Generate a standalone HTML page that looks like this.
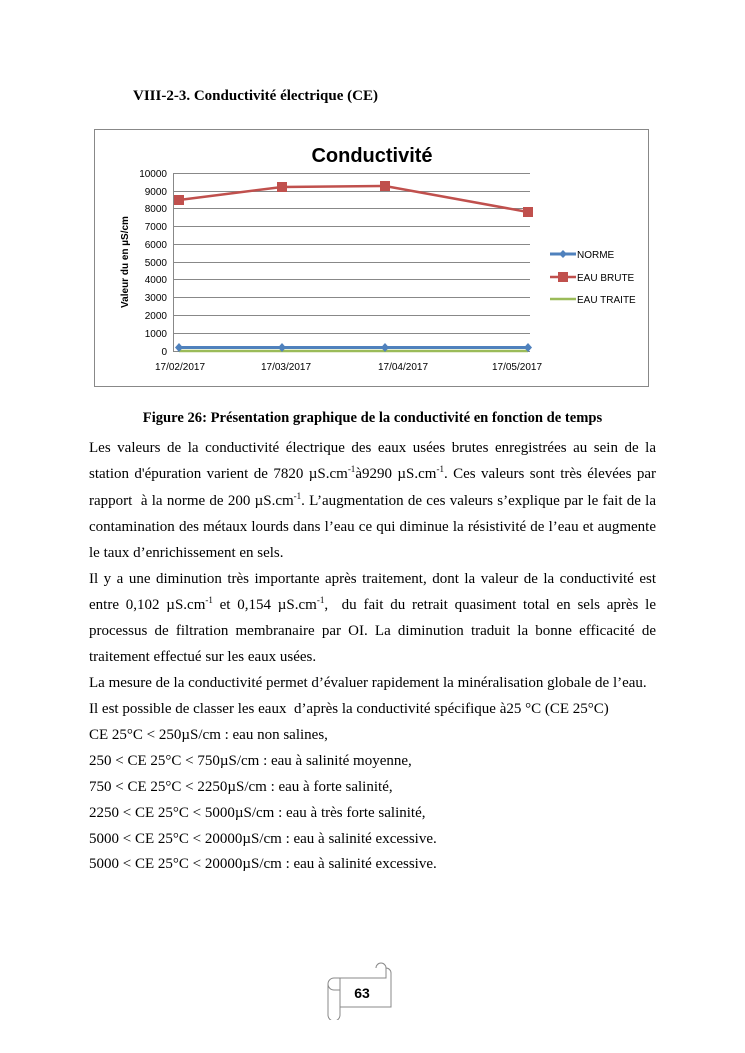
<!DOCTYPE html>
<html><head><meta charset="utf-8"><style>
body{margin:0;width:745px;height:1053px;background:#fff;position:relative;font-family:"Liberation Serif",serif;color:#000;overflow:hidden}
.l{position:absolute;left:89px;width:567px;font-size:15px;line-height:17px;white-space:nowrap}
.j{text-align:justify;text-align-last:justify;white-space:normal}
sup{font-size:9px;line-height:0;vertical-align:6px}
</style></head><body>
<div class="l" style="left:133px;top:88px;font-weight:bold;font-size:15px">VIII-2-3. Conductivité électrique (CE)</div>
<svg style="position:absolute;left:0;top:0" width="745" height="400" font-family="Liberation Sans, sans-serif">
<rect x="94.5" y="129.5" width="554" height="257" fill="#fff" stroke="#888"/>
<text x="372" y="162" font-size="20" font-weight="bold" text-anchor="middle">Conductivité</text>
<g stroke="#888" stroke-width="1">
<line x1="173" y1="173.5" x2="530" y2="173.5"/><line x1="173" y1="191.5" x2="530" y2="191.5"/>
<line x1="173" y1="208.5" x2="530" y2="208.5"/><line x1="173" y1="226.5" x2="530" y2="226.5"/>
<line x1="173" y1="244.5" x2="530" y2="244.5"/><line x1="173" y1="262.5" x2="530" y2="262.5"/>
<line x1="173" y1="279.5" x2="530" y2="279.5"/><line x1="173" y1="297.5" x2="530" y2="297.5"/>
<line x1="173" y1="315.5" x2="530" y2="315.5"/><line x1="173" y1="333.5" x2="530" y2="333.5"/>
<line x1="173" y1="351.5" x2="530" y2="351.5"/><line x1="173.5" y1="173" x2="173.5" y2="351"/>
</g>
<g font-size="10" text-anchor="end">
<text x="167" y="177">10000</text><text x="167" y="195">9000</text><text x="167" y="212">8000</text>
<text x="167" y="230">7000</text><text x="167" y="248">6000</text><text x="167" y="266">5000</text>
<text x="167" y="283">4000</text><text x="167" y="301">3000</text><text x="167" y="319">2000</text>
<text x="167" y="337">1000</text><text x="167" y="355">0</text></g>
<g font-size="10" text-anchor="middle">
<text x="180" y="370">17/02/2017</text><text x="286" y="370">17/03/2017</text>
<text x="403" y="370">17/04/2017</text><text x="517" y="370">17/05/2017</text></g>
<text transform="translate(128,262) rotate(-90)" font-size="10" font-weight="bold" text-anchor="middle">Valeur du en µS/cm</text>
<polyline points="179,351 282,351 385,351 528,351" fill="none" stroke="#9bbb59" stroke-width="2.5"/>
<polyline points="179,347.5 282,347.5 385,347.5 528,347.5" fill="none" stroke="#4f81bd" stroke-width="3"/>
<g fill="#4f81bd"><path d="M179,343 l4,4.5 -4,4.5 -4,-4.5z"/><path d="M282,343 l4,4.5 -4,4.5 -4,-4.5z"/><path d="M385,343 l4,4.5 -4,4.5 -4,-4.5z"/><path d="M528,343 l4,4.5 -4,4.5 -4,-4.5z"/></g>
<polyline points="179,200 282,187 385,186 528,212" fill="none" stroke="#c0504d" stroke-width="2.5"/>
<g fill="#c0504d"><rect x="174" y="195" width="10" height="10"/><rect x="277" y="182" width="10" height="10"/><rect x="380" y="181" width="10" height="10"/><rect x="523" y="207" width="10" height="10"/></g>
<line x1="550" y1="254" x2="576" y2="254" stroke="#4f81bd" stroke-width="3"/><path d="M563,250 l4,4 -4,4 -4,-4z" fill="#4f81bd"/>
<line x1="550" y1="277" x2="576" y2="277" stroke="#c0504d" stroke-width="2.5"/><rect x="558" y="272" width="10" height="10" fill="#c0504d"/>
<line x1="550" y1="299" x2="576" y2="299" stroke="#9bbb59" stroke-width="2.5"/>
<g font-size="10"><text x="577" y="258">NORME</text><text x="577" y="281">EAU BRUTE</text><text x="577" y="303">EAU TRAITE</text></g>
</svg>
<div class="l" style="left:0;width:745px;text-align:center;top:410px;font-weight:bold;font-size:14.6px">Figure 26: Présentation graphique de la conductivité en fonction de temps</div>
<div class="l j" style="top:440px">Les valeurs de la conductivité électrique des eaux usées brutes enregistrées au sein de la</div>
<div class="l j" style="top:466px">station d'épuration varient de 7820 µS.cm<sup>-1</sup>à9290 µS.cm<sup>-1</sup>. Ces valeurs sont très élevées par</div>
<div class="l j" style="top:493px">rapport &nbsp;à la norme de 200 µS.cm<sup>-1</sup>. L’augmentation de ces valeurs s’explique par le fait de la</div>
<div class="l j" style="top:519px">contamination des métaux lourds dans l’eau ce qui diminue la résistivité de l’eau et augmente</div>
<div class="l" style="top:545px">le taux d’enrichissement en sels.</div>
<div class="l j" style="top:571px">Il y a une diminution très importante après traitement, dont la valeur de la conductivité est</div>
<div class="l j" style="top:597px">entre 0,102 µS.cm<sup>-1</sup> et 0,154 µS.cm<sup>-1</sup>, &nbsp;du fait du retrait quasiment total en sels après le</div>
<div class="l j" style="top:623px">processus de filtration membranaire par OI. La diminution traduit la bonne efficacité de</div>
<div class="l" style="top:649px">traitement effectué sur les eaux usées.</div>
<div class="l" style="top:675px">La mesure de la conductivité permet d’évaluer rapidement la minéralisation globale de l’eau.</div>
<div class="l" style="top:701px">Il est possible de classer les eaux &nbsp;d’après la conductivité spécifique à25 °C (CE 25°C)</div>
<div class="l" style="top:727px">CE 25°C &lt; 250µS/cm : eau non salines,</div>
<div class="l" style="top:753px">250 &lt; CE 25°C &lt; 750µS/cm : eau à salinité moyenne,</div>
<div class="l" style="top:779px">750 &lt; CE 25°C &lt; 2250µS/cm : eau à forte salinité,</div>
<div class="l" style="top:805px">2250 &lt; CE 25°C &lt; 5000µS/cm : eau à très forte salinité,</div>
<div class="l" style="top:831px">5000 &lt; CE 25°C &lt; 20000µS/cm : eau à salinité excessive.</div>
<div class="l" style="top:856px">5000 &lt; CE 25°C &lt; 20000µS/cm : eau à salinité excessive.</div>
<svg style="position:absolute;left:320px;top:960px" width="80" height="60" fill="none" stroke="#888" stroke-width="1">
<path d="M14,18 H66 V8 a5,5 0 0 0 -10,0 M66,8 a5,5 0 0 1 5,5 V47 H20"/>
<path d="M14,18 a6,6 0 0 0 0,12 H20 V55 a6,6 0 0 1 -12,0 V24"/>
<path d="M20,30 V18"/>
<text x="42" y="38" font-family="Liberation Sans, sans-serif" font-size="14" font-weight="bold" fill="#000" stroke="none" text-anchor="middle">63</text>
</svg>
</body></html>
